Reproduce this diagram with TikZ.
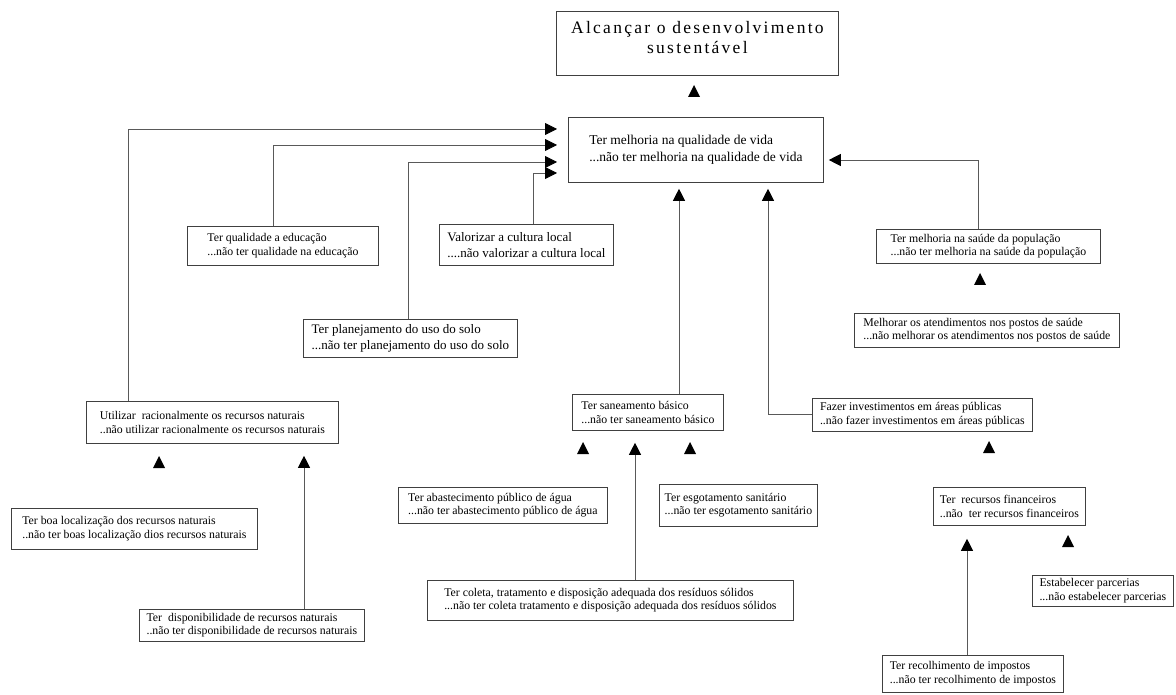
\documentclass[tikz,border=0pt]{standalone}
\usepackage{fontspec}
\setmainfont{Liberation Serif}
\newfontfamily\titulofonte[LetterSpace=13]{Liberation Serif}
\usetikzlibrary{arrows.meta}

\tikzset{
  caixa/.style={draw=black!75, line width=0.8pt, anchor=north west, align=left,
    inner xsep=2pt, inner ysep=0pt, font=\fontsize{11.8}{13.5}\selectfont},
  media/.style={font=\fontsize{13}{16.5}\selectfont},
  liga/.style={draw=black!65, line width=0.8pt, -{Triangle[width=12pt,length=12pt,black]}},
  pics/ponta/.style={code={\fill (-6,6) -- (6,6) -- (0,-6) -- cycle;}}
}

\begin{document}
\begin{tikzpicture}[x=1pt, y=-1pt]
  \useasboundingbox (0,0) rectangle (1176,695);
  % Nodes
  \node[caixa, align=center, minimum width=282pt, minimum height=64pt, text height=20pt,
    font=\titulofonte\fontsize{17.5}{20}\selectfont] (objetivo) at (556,11)
    {Alcançar o desenvolvimento\\sustentável};
  \node[caixa, minimum width=255pt, minimum height=65pt,
    font=\fontsize{13.5}{17}\selectfont] (qualidade) at (568,117)
    {Ter melhoria na qualidade de vida\\...não ter melhoria na qualidade de vida};
  \node[caixa, minimum width=191pt, minimum height=39pt] (educacao) at (187,226)
    {Ter qualidade a educação\\...não ter qualidade na educação};
  \node[caixa, media, minimum width=174pt, minimum height=41pt] (cultura) at (439,224)
    {Valorizar a cultura local\\....não valorizar a cultura local};
  \node[caixa, media, minimum width=214pt, minimum height=38pt] (solo) at (303,319)
    {Ter planejamento do uso do solo\\...não ter planejamento do uso do solo};
  \node[caixa, minimum width=224pt, minimum height=34pt] (saude) at (876,229)
    {Ter melhoria na saúde da população\\...não ter melhoria na saúde da população};
  \node[caixa, minimum width=265pt, minimum height=34pt] (atendimento) at (854,313)
    {Melhorar os atendimentos nos postos de saúde\\...não melhorar os atendimentos nos postos de saúde};
  \node[caixa, minimum width=252pt, minimum height=42pt] (recursos) at (86,401)
    {Utilizar\ \ racionalmente os recursos naturais\\..não utilizar racionalmente os recursos naturais};
  \node[caixa, minimum width=246pt, minimum height=41pt] (localizacao) at (11,508)
    {Ter boa localização dos recursos naturais\\..não ter boas localização dios recursos naturais};
  \node[caixa, minimum width=225pt, minimum height=32pt] (disponibilidade) at (139,609)
    {Ter\ \ disponibilidade de recursos naturais\\..não ter disponibilidade de recursos naturais};
  \node[caixa, minimum width=151pt, minimum height=36pt] (saneamento) at (572,394)
    {Ter saneamento básico\\...não ter saneamento básico};
  \node[caixa, minimum width=209pt, minimum height=36pt] (abastecimento) at (398,487)
    {Ter abastecimento público de água\\...não ter abastecimento público de água};
  \node[caixa, minimum width=158pt, minimum height=42pt] (esgotamento) at (659,484)
    {Ter esgotamento sanitário\\...não ter esgotamento sanitário};
  \node[caixa, minimum width=366pt, minimum height=40pt] (coleta) at (427,580)
    {Ter coleta, tratamento e disposição adequada dos resíduos sólidos\\...não ter coleta tratamento e disposição adequada dos resíduos sólidos};
  \node[caixa, minimum width=220pt, minimum height=33pt] (investimentos) at (812,398)
    {Fazer investimentos em áreas públicas\\..não fazer investimentos em áreas públicas};
  \node[caixa, minimum width=152pt, minimum height=38pt] (financeiros) at (933,487)
    {Ter\ \ recursos financeiros\\..não\ \ ter recursos financeiros};
  \node[caixa, minimum width=141pt, minimum height=31pt] (parcerias) at (1032,575)
    {Estabelecer parcerias\\...não estabelecer parcerias};
  \node[caixa, minimum width=181pt, minimum height=37pt] (impostos) at (882,655)
    {Ter recolhimento de impostos\\...não ter recolhimento de impostos};
  % Edges
  \draw[liga, shorten >=11pt] (recursos.north -| 128,0) |- (qualidade.west |- 0,129);
  \draw[liga, shorten >=11pt] (educacao.north -| 273,0) |- (qualidade.west |- 0,145);
  \draw[liga, shorten >=11pt] (solo.north -| 408,0) |- (qualidade.west |- 0,162);
  \draw[liga, shorten >=11pt] (cultura.north -| 533,0) |- (qualidade.west |- 0,173);
  \draw[liga, shorten >=5pt] (saude.north -| 978,0) |- (qualidade.east |- 0,160);
  \draw[liga, shorten >=6pt] (saneamento.north -| 679,0) -- (qualidade.south -| 679,0);
  \draw[liga, shorten >=6pt] (investimentos.west |- 0,414) -| (qualidade.south -| 768,0);
  \draw[liga, shorten >=12pt] (coleta.north -| 635,0) -- (saneamento.south -| 635,0);
  \draw[liga, shorten >=12pt] (disponibilidade.north -| 304,0) -- (recursos.south -| 304,0);
  \draw[liga, shorten >=13pt] (impostos.north -| 967,0) -- (financeiros.south -| 967,0);
  % Loose arrowheads
  \pic at (694,91) {ponta};
  \pic at (159,462) {ponta};
  \pic at (583,448) {ponta};
  \pic at (690,448) {ponta};
  \pic at (980,279) {ponta};
  \pic at (989,447) {ponta};
  \pic at (1068,541) {ponta};
\end{tikzpicture}
\end{document}
